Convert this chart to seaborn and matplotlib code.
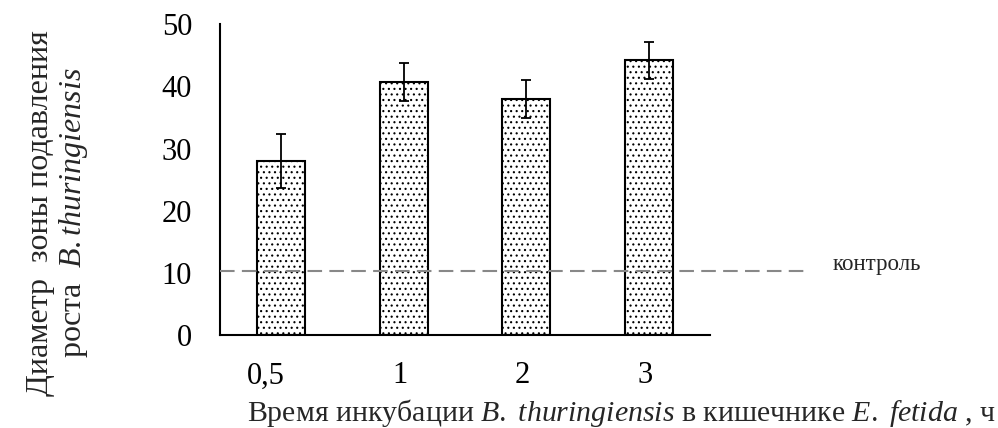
import matplotlib
matplotlib.use("Agg")
import matplotlib.pyplot as plt
import seaborn as sns
import pandas as pd
import numpy as np

categories = ["0,5", "1", "2", "3"]
values = [28.0, 40.7, 38.0, 44.2]
errors = [4.3, 3.0, 3.0, 3.0]
control = 10.3
yticks = [0, 10, 20, 30, 40, 50]

sns.set_theme(style="white")
plt.rcParams['font.family'] = ['Liberation Serif', 'DejaVu Serif']
plt.rcParams['mathtext.fontset'] = 'custom'
plt.rcParams['mathtext.rm'] = 'Liberation Serif'
plt.rcParams['mathtext.it'] = 'Liberation Serif:italic'
plt.rcParams['hatch.color'] = '#555555'
plt.rcParams['hatch.linewidth'] = 0.8

df = pd.DataFrame({"time": categories, "diam": values})

fig = plt.figure(figsize=(9.98, 4.28), dpi=100)
ax = fig.add_axes([220/998, 1-335/428, 490/998, (335-24.3)/428])

sns.barplot(data=df, x="time", y="diam", ax=ax, color="white", edgecolor="black",
            linewidth=1.5, width=0.39, errorbar=None, hatch="...")
xs = np.arange(len(categories))
ax.errorbar(xs, values, yerr=errors, fmt="none", ecolor="black", elinewidth=1.3,
            capsize=3.5, capthick=1.3)

ax.set_xlim(-0.5, 3.5)
ax.set_ylim(0, 50)
ax.set_yticks(yticks)
ax.set_xticks(xs + 0.03)
ax.set_xticklabels(categories, ha="right")
ax.set_xticks(np.arange(-0.5, 4.0, 1.0), minor=True)
ax.tick_params(axis="x", which="major", length=0, pad=19, labelsize=22)
ax.tick_params(axis="x", which="minor", length=8, width=1.5, direction="out", color="black")
ax.tick_params(axis="y", length=7, width=1.5, direction="out", labelsize=22, pad=13, color="black")
ax.tick_params(colors="black")
for s in ["top", "right"]:
    ax.spines[s].set_visible(False)
for s in ["left", "bottom"]:
    ax.spines[s].set_color("black")
    ax.spines[s].set_linewidth(1.5)

ax.plot([-0.5, 4.28], [control, control], color="#888888", lw=1.5,
        dashes=(7, 3.5), clip_on=False, zorder=5)
ax.text(4.50, control + 1.0, "контроль", fontsize=16.5, va="center", ha="left")

ax.set_xlabel("")
ax.set_ylabel("")
fig.text(621/998, 1-413/428,
         r"Время инкубации $\mathit{B.\ thuringiensis}$ в кишечнике $\mathit{E.\ fetida}$ , ч",
         fontsize=21.5, ha="center", va="center")
fig.text(58/998, 1-213/428,
         "Диаметр  зоны подавления\nроста  $\\mathit{B.thuringiensis}$",
         fontsize=23, rotation=90, ha="center", va="center", multialignment="center",
         linespacing=1.12)

fig.savefig("out.png", dpi=100)
